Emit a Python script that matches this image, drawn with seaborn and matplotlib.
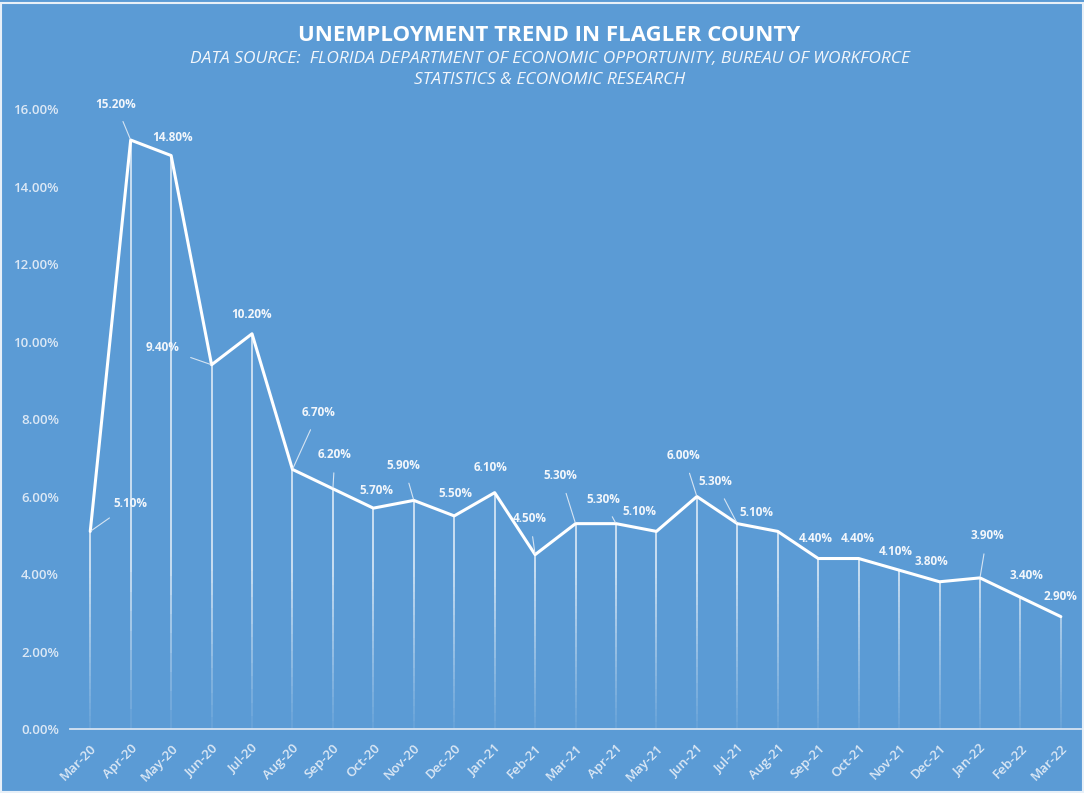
import matplotlib
matplotlib.use('Agg')
import pandas as pd
import matplotlib.pyplot as plt
import seaborn as sns
import numpy as np
from matplotlib.collections import LineCollection
from matplotlib.patches import Rectangle

months = ['Mar-20', 'Apr-20', 'May-20', 'Jun-20', 'Jul-20', 'Aug-20', 'Sep-20',
          'Oct-20', 'Nov-20', 'Dec-20', 'Jan-21', 'Feb-21', 'Mar-21', 'Apr-21',
          'May-21', 'Jun-21', 'Jul-21', 'Aug-21', 'Sep-21', 'Oct-21', 'Nov-21',
          'Dec-21', 'Jan-22', 'Feb-22', 'Mar-22']
rate = [5.1, 15.2, 14.8, 9.4, 10.2, 6.7, 6.2, 5.7, 5.9, 5.5, 6.1, 4.5, 5.3, 5.3,
        5.1, 6.0, 5.3, 5.1, 4.4, 4.4, 4.1, 3.8, 3.9, 3.4, 2.9]

# label offsets in pixels (dx, dy) and whether a leader line is drawn
label_dx = [40, -15, 1, -49, 0, 26, 2, 3, -10, 1, -4, -5, -15, -13, -17, -13,
            -22, -21, -2, -1, -3, -8, 7, 6, 0]
label_dy = [28, 36, 18, 17, 19, 57, 34, 18, 35, 22, 25, 36, 48, 24, 20, 41,
            42, 19, 20, 20, 19, 20, 42, 22, 20]
leader = [1, 1, 0, 1, 0, 1, 1, 0, 1, 0, 0, 1, 1, 1, 0, 1, 1, 0, 0, 0, 0, 0, 1, 0, 0]

bg = '#5B9BD5'
txt = '#F2F6FB'
tick_col = '#DCE8F5'

sns.set_style('white')
plt.rcParams['font.family'] = ['Open Sans', 'DejaVu Sans']

df = pd.DataFrame({'idx': np.arange(len(months)), 'rate': rate})

fig = plt.figure(figsize=(10.84, 7.93), dpi=100, facecolor=bg)
ax = fig.add_axes([0.0646, 0.0807, 0.9327, 0.7818])
ax.set_facecolor(bg)

# fading drop lines
segs, cols = [], []
n = 30
for i, v in enumerate(rate):
    ys = np.linspace(0, v, n + 1)
    for k in range(n):
        segs.append([(i, ys[k]), (i, ys[k + 1])])
        a = 0.1 + 0.75 * min(1.0, ys[k] / 4.0)
        cols.append((1, 1, 1, min(0.85, a)))
ax.add_collection(LineCollection(segs, colors=cols, linewidths=1.1, zorder=1))

sns.lineplot(data=df, x='idx', y='rate', color='white', linewidth=2.2, ax=ax, zorder=3)

for i, v in enumerate(rate):
    ax.annotate(f'{v:.2f}%', xy=(i, v), xytext=(label_dx[i], label_dy[i]),
                textcoords='offset pixels', ha='center', va='center',
                color=txt, fontsize=8.5, fontweight='bold', zorder=4,
                arrowprops=dict(arrowstyle='-', color='#D6E4F2', lw=0.8,
                                shrinkA=6, shrinkB=1) if leader[i] else None)

ax.set_xlim(-0.5, len(months) - 0.5)
ax.set_ylim(0, 16)
ax.set_yticks(np.arange(0, 17, 2))
ax.set_yticklabels([f'{t:.2f}%' for t in np.arange(0, 17, 2)], color=tick_col,
                   fontsize=9.5, fontweight='semibold')
ax.set_xticks(np.arange(len(months)))
ax.set_xticklabels(months, rotation=45, ha='right', rotation_mode='anchor',
                   color=tick_col, fontsize=9.5, fontweight='semibold')
ax.set_xticks(np.arange(-0.5, len(months)), minor=True)
ax.tick_params(axis='x', which='major', length=0, pad=9)
ax.tick_params(axis='x', which='minor', length=5, width=1.2, color='#D6E4F2', direction='out')
ax.tick_params(axis='y', length=0, pad=8)
ax.set_xlabel('')
ax.set_ylabel('')
for s in ['top', 'right', 'left']:
    ax.spines[s].set_visible(False)
ax.spines['bottom'].set_color('#D6E4F2')
ax.spines['bottom'].set_linewidth(1.3)

fig.text(0.507, 0.955, 'UNEMPLOYMENT TREND IN FLAGLER COUNTY', ha='center', va='center',
         color='white', fontsize=16, fontweight='bold')
fig.text(0.507, 0.925, 'DATA SOURCE:  FLORIDA DEPARTMENT OF ECONOMIC OPPORTUNITY, BUREAU OF WORKFORCE',
         ha='center', va='center', color=txt, fontsize=12.5, fontstyle='italic')
fig.text(0.507, 0.899, 'STATISTICS & ECONOMIC RESEARCH', ha='center', va='center',
         color=txt, fontsize=12.5, fontstyle='italic')

fig.patches.append(Rectangle((0.001, 0.001), 0.998, 0.995, transform=fig.transFigure,
                             fill=False, edgecolor='#E8F0F8', linewidth=1.5))

fig.savefig('out.png', dpi=100, facecolor=bg)
